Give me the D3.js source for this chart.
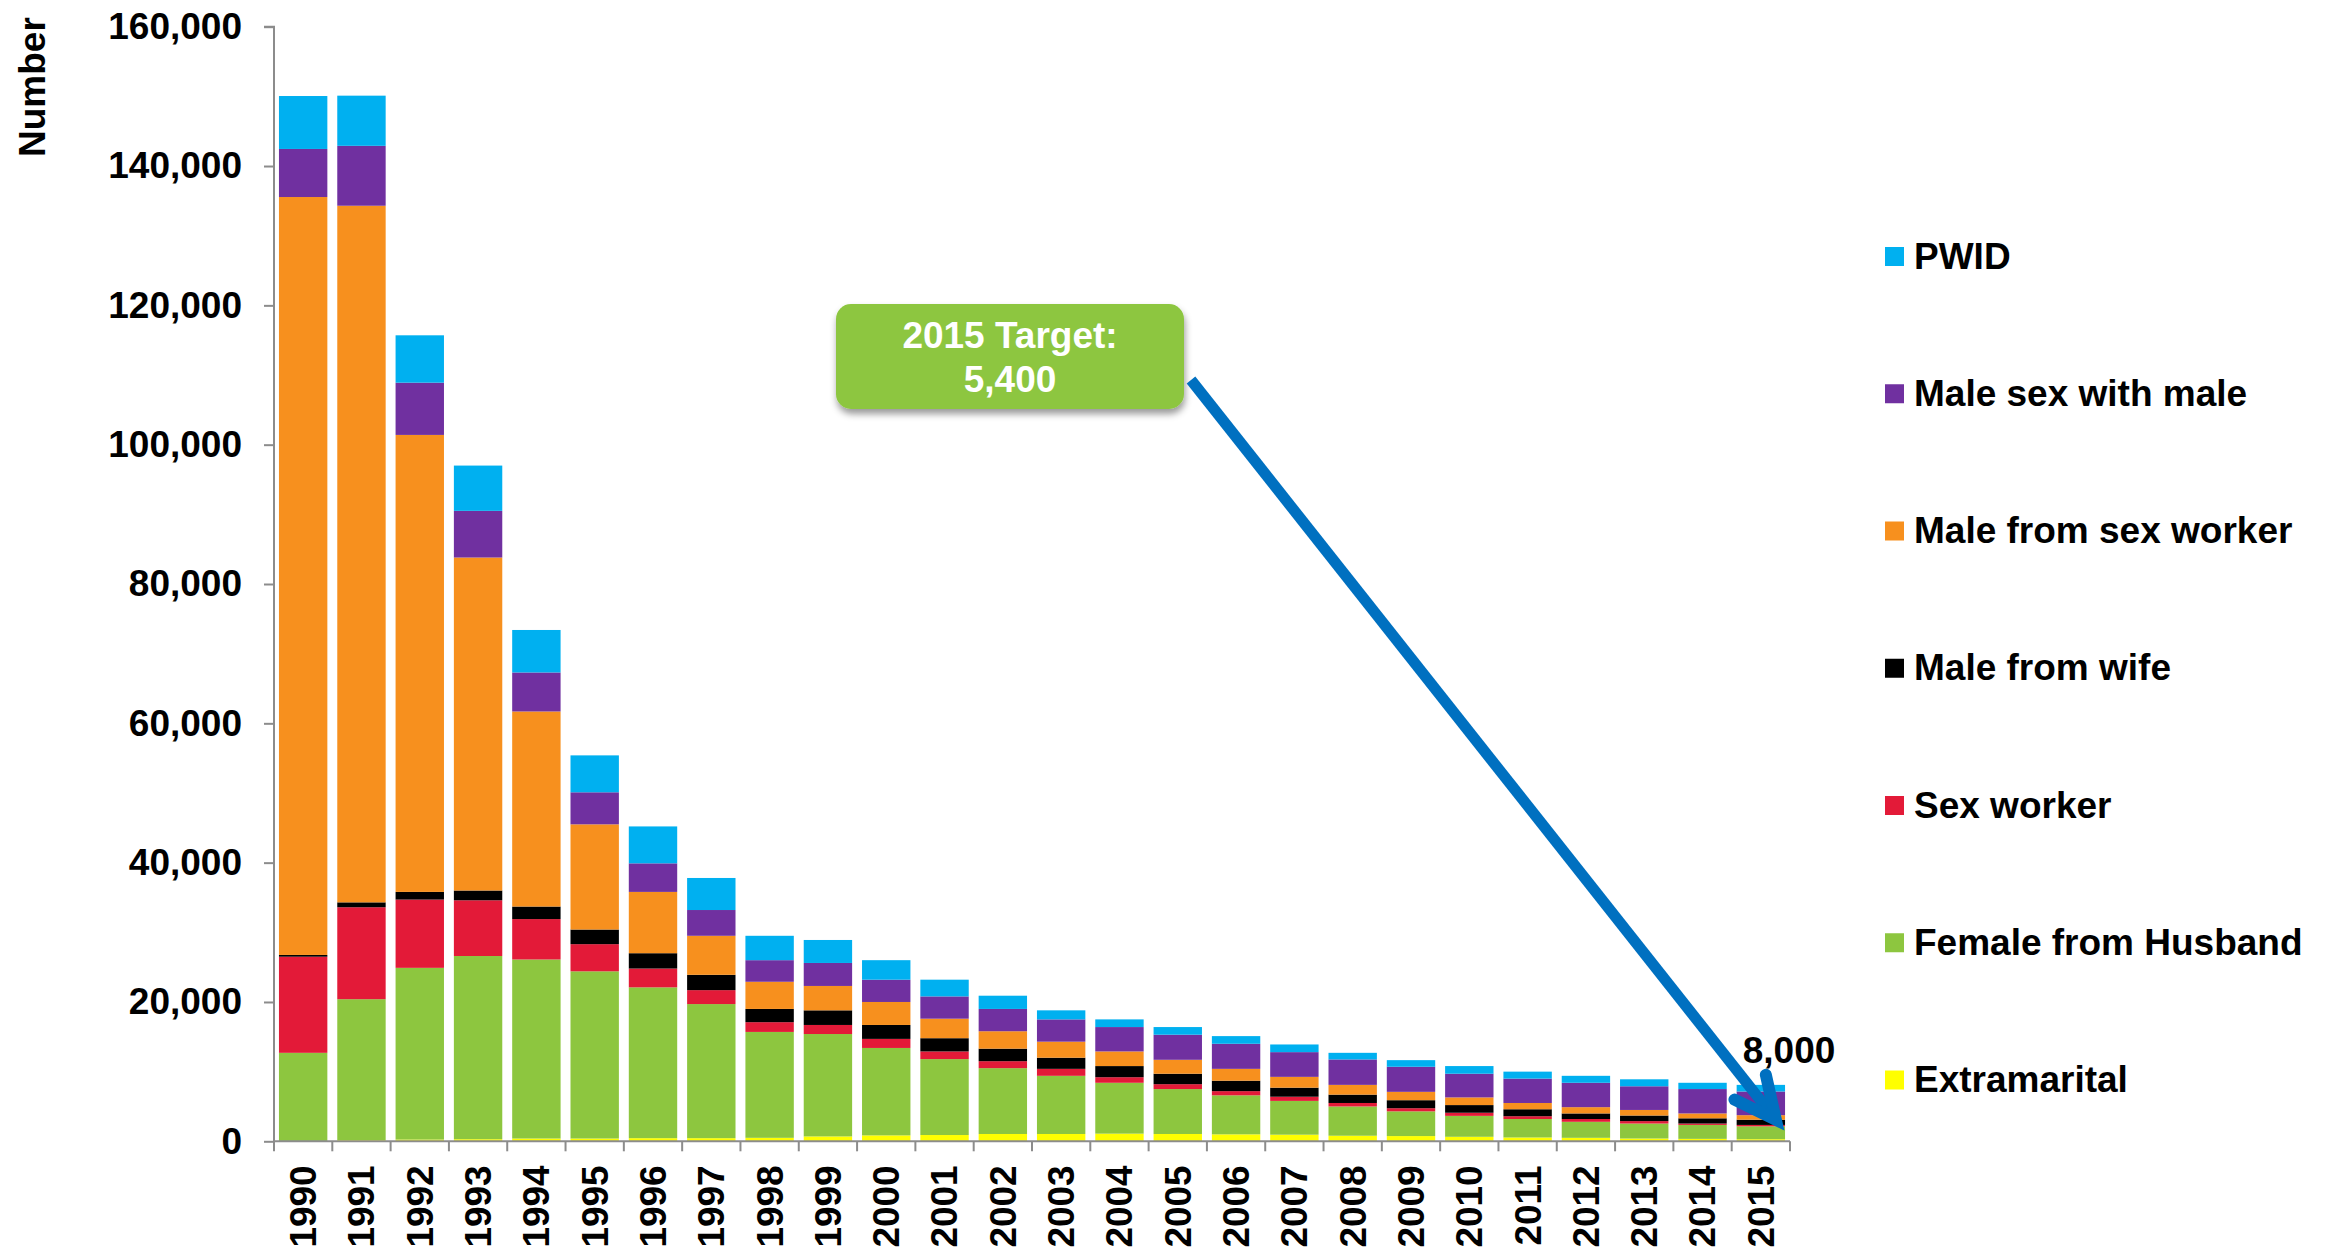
<!DOCTYPE html>
<html>
<head>
<meta charset="utf-8">
<script src="https://cdn.jsdelivr.net/npm/d3@7"></script>
<style>
  html, body { margin: 0; padding: 0; background: #fff; }
  svg { display: block; }
  text { font-family: "Liberation Sans", Arial, Helvetica, sans-serif; font-weight: bold; }
</style>
</head>
<body>
<svg id="chart" width="2333" height="1248"></svg>
<script>
// ---------------- DATA ----------------
const years = ["1990","1991","1992","1993","1994","1995","1996","1997","1998","1999","2000","2001","2002","2003","2004","2005","2006","2007","2008","2009","2010","2011","2012","2013","2014","2015"];

// stacked bottom -> top
const extramarital      = [50,150,250,300,400,400,450,450,500,700,850,900,1050,1050,1100,1050,1000,950,800,750,650,550,500,400,350,300];
const femaleFromHusband = [12650,20250,24650,26300,25700,24000,21650,19250,15200,14700,12550,10900,9450,8350,7300,6450,5600,4850,4200,3550,3000,2650,2300,2150,2000,1850];
const sexWorker         = [13800,13200,9800,8000,5800,3900,2700,2000,1400,1300,1300,1100,1000,1000,800,700,600,600,500,450,450,400,400,350,200,200];
const maleFromWife      = [250,700,1100,1400,1800,2100,2200,2200,1900,2100,2000,1900,1800,1600,1600,1500,1500,1300,1200,1150,1100,1000,800,800,750,750];
const maleFromSexWorker = [108800,100000,65600,47800,28000,15100,8800,5600,3900,3500,3300,2800,2500,2300,2100,2000,1700,1550,1400,1200,1100,900,900,800,700,650];
const maleSexWithMale   = [6900,8600,7500,6700,5600,4600,4100,3700,3100,3300,3200,3200,3200,3200,3500,3600,3600,3550,3650,3600,3400,3500,3500,3400,3500,3400];
const pwid              = [7600,7200,6800,6500,6100,5300,5300,4600,3500,3300,2800,2400,1900,1300,1100,1100,1100,1100,950,950,1100,1000,1000,1000,900,950];

const seriesNames  = ["Extramarital","Female from Husband","Sex worker","Male from wife","Male from sex worker","Male sex with male","PWID"];
const seriesValues = [extramarital, femaleFromHusband, sexWorker, maleFromWife, maleFromSexWorker, maleSexWithMale, pwid];
const seriesColors = ["#FFFF00","#8DC63F","#E31A38","#000000","#F7901E","#7030A0","#00B0F0"];

const yTicks = [0,20000,40000,60000,80000,100000,120000,140000,160000];
const yTitle = "Number";
const targetLabel = ["2015 Target:", "5,400"];
const lastValueLabel = "8,000";

// ---------------- LAYOUT ----------------
const svg = d3.select("#chart");
const plotLeft = 274, plotRight = 1790, plotTop = 26.7, plotBottom = 1141.3;
const fontSize = 37;

const x = d3.scaleBand().domain(years).range([plotLeft, plotRight]).paddingInner(0.17).paddingOuter(0.085);
const y = d3.scaleLinear().domain([0, 160000]).range([plotBottom, plotTop]);

// stack
const table = years.map((yr, i) => {
  const row = { year: yr };
  seriesNames.forEach((n, k) => row[n] = seriesValues[k][i]);
  return row;
});
const stacked = d3.stack().keys(seriesNames)(table);
const color = d3.scaleOrdinal().domain(seriesNames).range(seriesColors);

// bars
svg.append("g").selectAll("g").data(stacked).join("g")
  .attr("fill", d => color(d.key))
  .selectAll("rect").data(d => d).join("rect")
  .attr("x", d => x(d.data.year))
  .attr("width", x.bandwidth())
  .attr("y", d => y(d[1]))
  .attr("height", d => Math.max(0, y(d[0]) - y(d[1])));

// axes
const axisColor = "#8c8c8c";
const yAxis = svg.append("g").attr("transform", `translate(${plotLeft},0)`)
  .call(d3.axisLeft(y).tickValues(yTicks).tickSize(10).tickPadding(22).tickFormat(d3.format(",")));
yAxis.select(".domain").attr("stroke", axisColor).attr("stroke-width", 2).attr("d", `M-10,${plotTop}H0V${plotBottom}`);
yAxis.selectAll(".tick line").attr("stroke", axisColor).attr("stroke-width", 2);
yAxis.selectAll(".tick text").attr("font-size", fontSize).attr("fill", "#000")
  .attr("font-family", "Liberation Sans, Arial, sans-serif").attr("font-weight", "bold");

// x axis: line + ticks at band boundaries
const xg = svg.append("g");
xg.append("line").attr("x1", plotLeft).attr("x2", plotRight).attr("y1", plotBottom).attr("y2", plotBottom)
  .attr("stroke", axisColor).attr("stroke-width", 2);
const boundaries = d3.range(years.length + 1).map(i => plotLeft + i * x.step());
xg.selectAll("line.tk").data(boundaries).join("line").attr("class", "tk")
  .attr("x1", d => d).attr("x2", d => d).attr("y1", plotBottom).attr("y2", plotBottom + 10)
  .attr("stroke", axisColor).attr("stroke-width", 2);
xg.selectAll("text").data(years).join("text")
  .attr("transform", d => `translate(${x(d) + x.bandwidth() / 2},${plotBottom + 24}) rotate(-90)`)
  .attr("text-anchor", "end")
  .attr("dy", "0.35em")
  .attr("font-size", fontSize)
  .text(d => d);

// y title
svg.append("text")
  .attr("transform", "translate(45,157) rotate(-90)")
  .attr("text-anchor", "start")
  .attr("font-size", fontSize)
  .text(yTitle);

// legend (top item = PWID)
const legendOrder = seriesNames.slice().reverse();
const lg = svg.append("g");
legendOrder.forEach((n, i) => {
  const cy = 256.5 + i * 137.25;
  lg.append("rect").attr("x", 1885).attr("y", cy - 9.5).attr("width", 19).attr("height", 19).attr("fill", color(n));
  lg.append("text").attr("x", 1914).attr("y", cy + 12).attr("font-size", fontSize).text(n);
});

// annotation box
const defs = svg.append("defs");
const f = defs.append("filter").attr("id", "shadow").attr("x", "-10%").attr("y", "-10%").attr("width", "130%").attr("height", "140%");
f.append("feDropShadow").attr("dx", 1).attr("dy", 5).attr("stdDeviation", 3.5).attr("flood-color", "#000").attr("flood-opacity", 0.4);

svg.append("rect").attr("x", 836).attr("y", 304).attr("width", 348).attr("height", 105)
  .attr("rx", 15).attr("ry", 15).attr("fill", "#8DC63F").attr("filter", "url(#shadow)");
svg.append("text").attr("x", 1010).attr("y", 347.5).attr("text-anchor", "middle").attr("fill", "#fff")
  .attr("font-size", fontSize).text(targetLabel[0]);
svg.append("text").attr("x", 1010).attr("y", 392).attr("text-anchor", "middle").attr("fill", "#fff")
  .attr("font-size", fontSize).text(targetLabel[1]);

// arrow from box to last bar
const lastYear = years[years.length - 1];
const tipX = x(lastYear) + x.bandwidth() * 0.81;
const tipY = y(3100);
const startX = 1191, startY = 380;
const ang = Math.atan2(tipY - startY, tipX - startX);
const armLen = 46, spread = 0.45;
const arrowBlue = "#0070C0";
svg.append("line").attr("x1", startX).attr("y1", startY)
  .attr("x2", tipX - 8 * Math.cos(ang)).attr("y2", tipY - 8 * Math.sin(ang))
  .attr("stroke", arrowBlue).attr("stroke-width", 11);
const a1 = [tipX - armLen * Math.cos(ang - spread), tipY - armLen * Math.sin(ang - spread)];
const a2 = [tipX - armLen * Math.cos(ang + spread), tipY - armLen * Math.sin(ang + spread)];
svg.append("path")
  .attr("d", `M${a1[0]},${a1[1]}L${tipX},${tipY}L${a2[0]},${a2[1]}`)
  .attr("fill", "none").attr("stroke", arrowBlue).attr("stroke-width", 12)
  .attr("stroke-linecap", "round").attr("stroke-linejoin", "miter");

// last value label
const lastTotal = d3.sum(seriesValues, s => s[s.length - 1]);
svg.append("text").attr("x", 1789).attr("y", y(lastTotal) - 22)
  .attr("text-anchor", "middle").attr("font-size", fontSize).text(lastValueLabel);
</script>
</body>
</html>
